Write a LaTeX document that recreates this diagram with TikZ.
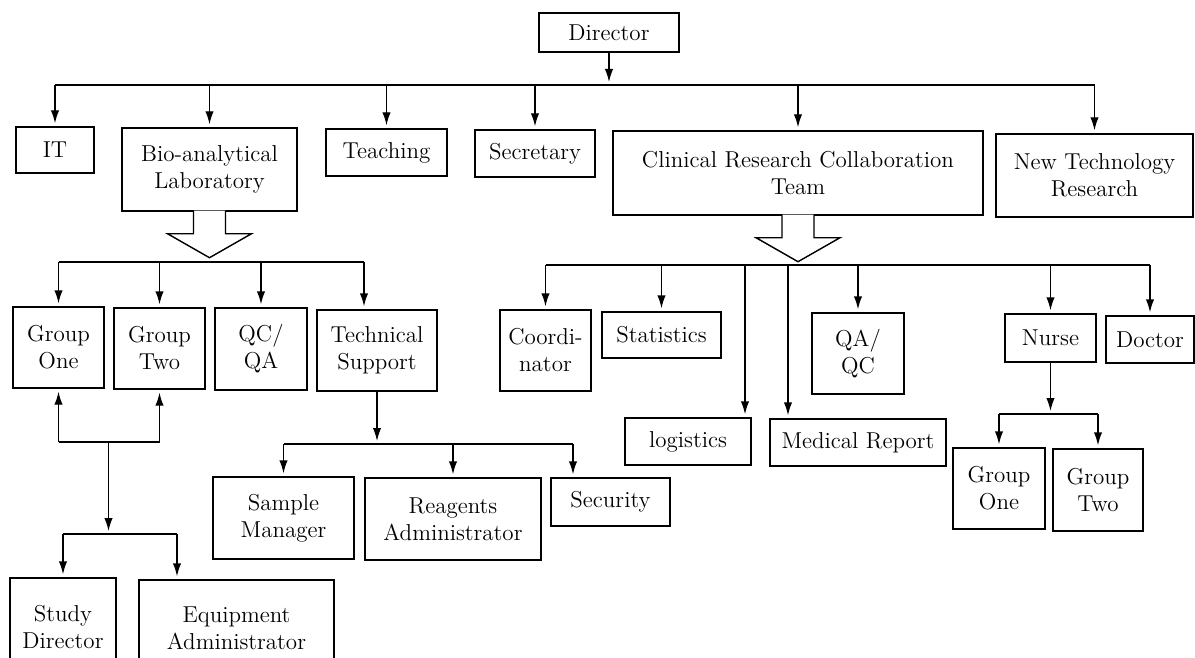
\documentclass[tikz,border=0pt]{standalone}
\usepackage{tikz}
\usetikzlibrary{arrows.meta}

\begin{document}
\begin{tikzpicture}[x=0.5pt,y=-0.5pt,line width=0.7pt,
  unit/.style={draw,rectangle,align=center,inner sep=1pt,font=\fontsize{11.5}{13.5}\selectfont},
  sz/.style 2 args={minimum width=#1pt,minimum height=#2pt},
  arr/.style={-{Latex[length=6.5pt,width=4.2pt]},shorten >=1.5pt}]
\useasboundingbox (0,0) rectangle (1195,658);
\clip (0,0) rectangle (1195,658);
\node[unit,sz={70}{19.5}] (director) at (609,32.5) {Director};
\node[unit,sz={39}{23}] (it) at (55,150) {IT};
\node[unit,sz={87.5}{41.5}] (bio) at (209.5,169.5) {Bio-analytical\\Laboratory};
\node[unit,sz={60.5}{23.5}] (teach) at (386.5,152.5) {Teaching};
\node[unit,sz={60}{23.5}] (secr) at (535,153.5) {Secretary};
\node[unit,sz={185}{42}] (crct) at (798,173) {Clinical Research Collaboration\\Team};
\node[unit,sz={98.5}{41.5}] (newtech) at (1094.5,175.5) {New Technology\\Research};
\node[unit,sz={45.5}{40.5}] (grponeL) at (58.5,347.5) {Group\\One};
\node[unit,sz={45.5}{40.5}] (grptwoL) at (159.5,348.5) {Group\\Two};
\node[unit,sz={46}{41}] (qcqa) at (261,349) {QC/\\QA};
\node[unit,sz={60}{40.5}] (tech) at (377,350.5) {Technical\\Support};
\node[unit,sz={45.5}{40.5}] (coord) at (545.5,350.5) {Coordi-\\nator};
\node[unit,sz={59.5}{23}] (stats) at (661.5,335) {Statistics};
\node[unit,sz={63}{23.5}] (logist) at (688,441.5) {logistics};
\node[unit,sz={88}{23.5}] (medrep) at (858,442.5) {Medical Report};
\node[unit,sz={46}{40.5}] (qaqc) at (858,353.5) {QA/\\QC};
\node[unit,sz={45.5}{24}] (nurse) at (1050.5,338) {Nurse};
\node[unit,sz={44}{23.5}] (doctor) at (1150,339.5) {Doctor};
\node[unit,sz={70.5}{41}] (sample) at (283.5,518) {Sample\\Manager};
\node[unit,sz={88}{41}] (reagents) at (453,519) {Reagents\\Administrator};
\node[unit,sz={59.5}{24}] (security) at (610.5,502) {Security};
\node[unit,sz={53}{49}] (studydir) at (63,627) {Study\\Director};
\node[unit,sz={97.5}{48}] (equipadm) at (236.5,628) {Equipment\\Administrator};
\node[unit,sz={46}{40.5}] (grponeR) at (999,488.5) {Group\\One};
\node[unit,sz={45}{41}] (grptwoR) at (1098,490) {Group\\Two};
% director level
\coordinate (bus1) at (0,85);
\draw[arr] (director) -- (director |- bus1);
\draw (it.north |- bus1) -- (newtech.north |- bus1);
\foreach \n in {it,bio,teach,secr,crct,newtech}
  {\draw[arr] (\n.north |- bus1) -- (\n.north);}
% hollow arrows
\foreach \n in {bio,crct}
  {\path[draw,fill=white] (\n.south) ++(-16,-1) -- ++(0,23) -- ++(-26,0) -- ++(42,24)
     -- ++(42,-24) -- ++(-26,0) -- ++(0,-23);}
% laboratory
\coordinate (bus2) at (0,262);
\coordinate (techin) at (364,262);
\draw (grponeL.north |- bus2) -- (techin);
\foreach \n in {grponeL,grptwoL,qcqa}
  {\draw[arr] (\n.north |- bus2) -- (\n.north);}
\draw[arr] (techin) -- (techin |- tech.north);
\coordinate (bus4) at (0,444);
\coordinate (secin) at (573,444);
\draw[arr] (tech) -- (tech |- bus4);
\draw (sample.north |- bus4) -- (secin);
\foreach \n in {sample,reagents}
  {\draw[arr] (\n.north |- bus4) -- (\n.north);}
\draw[arr] (secin) -- (secin |- security.north);
\coordinate (bus5) at (108.5,442);
\coordinate (bus6) at (0,534);
\coordinate (eqin) at (177,534);
\draw (grponeL.south |- bus5) -- (grptwoL.south |- bus5);
\foreach \n in {grponeL,grptwoL}
  {\draw[arr] (\n.south |- bus5) -- (\n.south);}
\draw[arr] (bus5) -- (bus5 |- bus6);
\draw (studydir.north |- bus6) -- (eqin);
\draw[arr] (studydir.north |- bus6) -- (studydir.north);
\draw[arr] (eqin) -- (eqin |- equipadm.north);
% clinical team
\coordinate (bus3) at (0,265);
\coordinate (lgin) at (745,265);
\coordinate (mrin) at (788,265);
\draw (coord.north |- bus3) -- (doctor.north |- bus3);
\foreach \n in {coord,stats,qaqc,nurse,doctor}
  {\draw[arr] (\n.north |- bus3) -- (\n.north);}
\draw[arr] (lgin) -- (lgin |- logist.north);
\draw[arr] (mrin) -- (mrin |- medrep.north);
\coordinate (bus7) at (0,414);
\draw[arr] (nurse) -- (nurse |- bus7);
\draw (grponeR.north |- bus7) -- (grptwoR.north |- bus7);
\foreach \n in {grponeR,grptwoR}
  {\draw[arr] (\n.north |- bus7) -- (\n.north);}
\end{tikzpicture}
\end{document}
